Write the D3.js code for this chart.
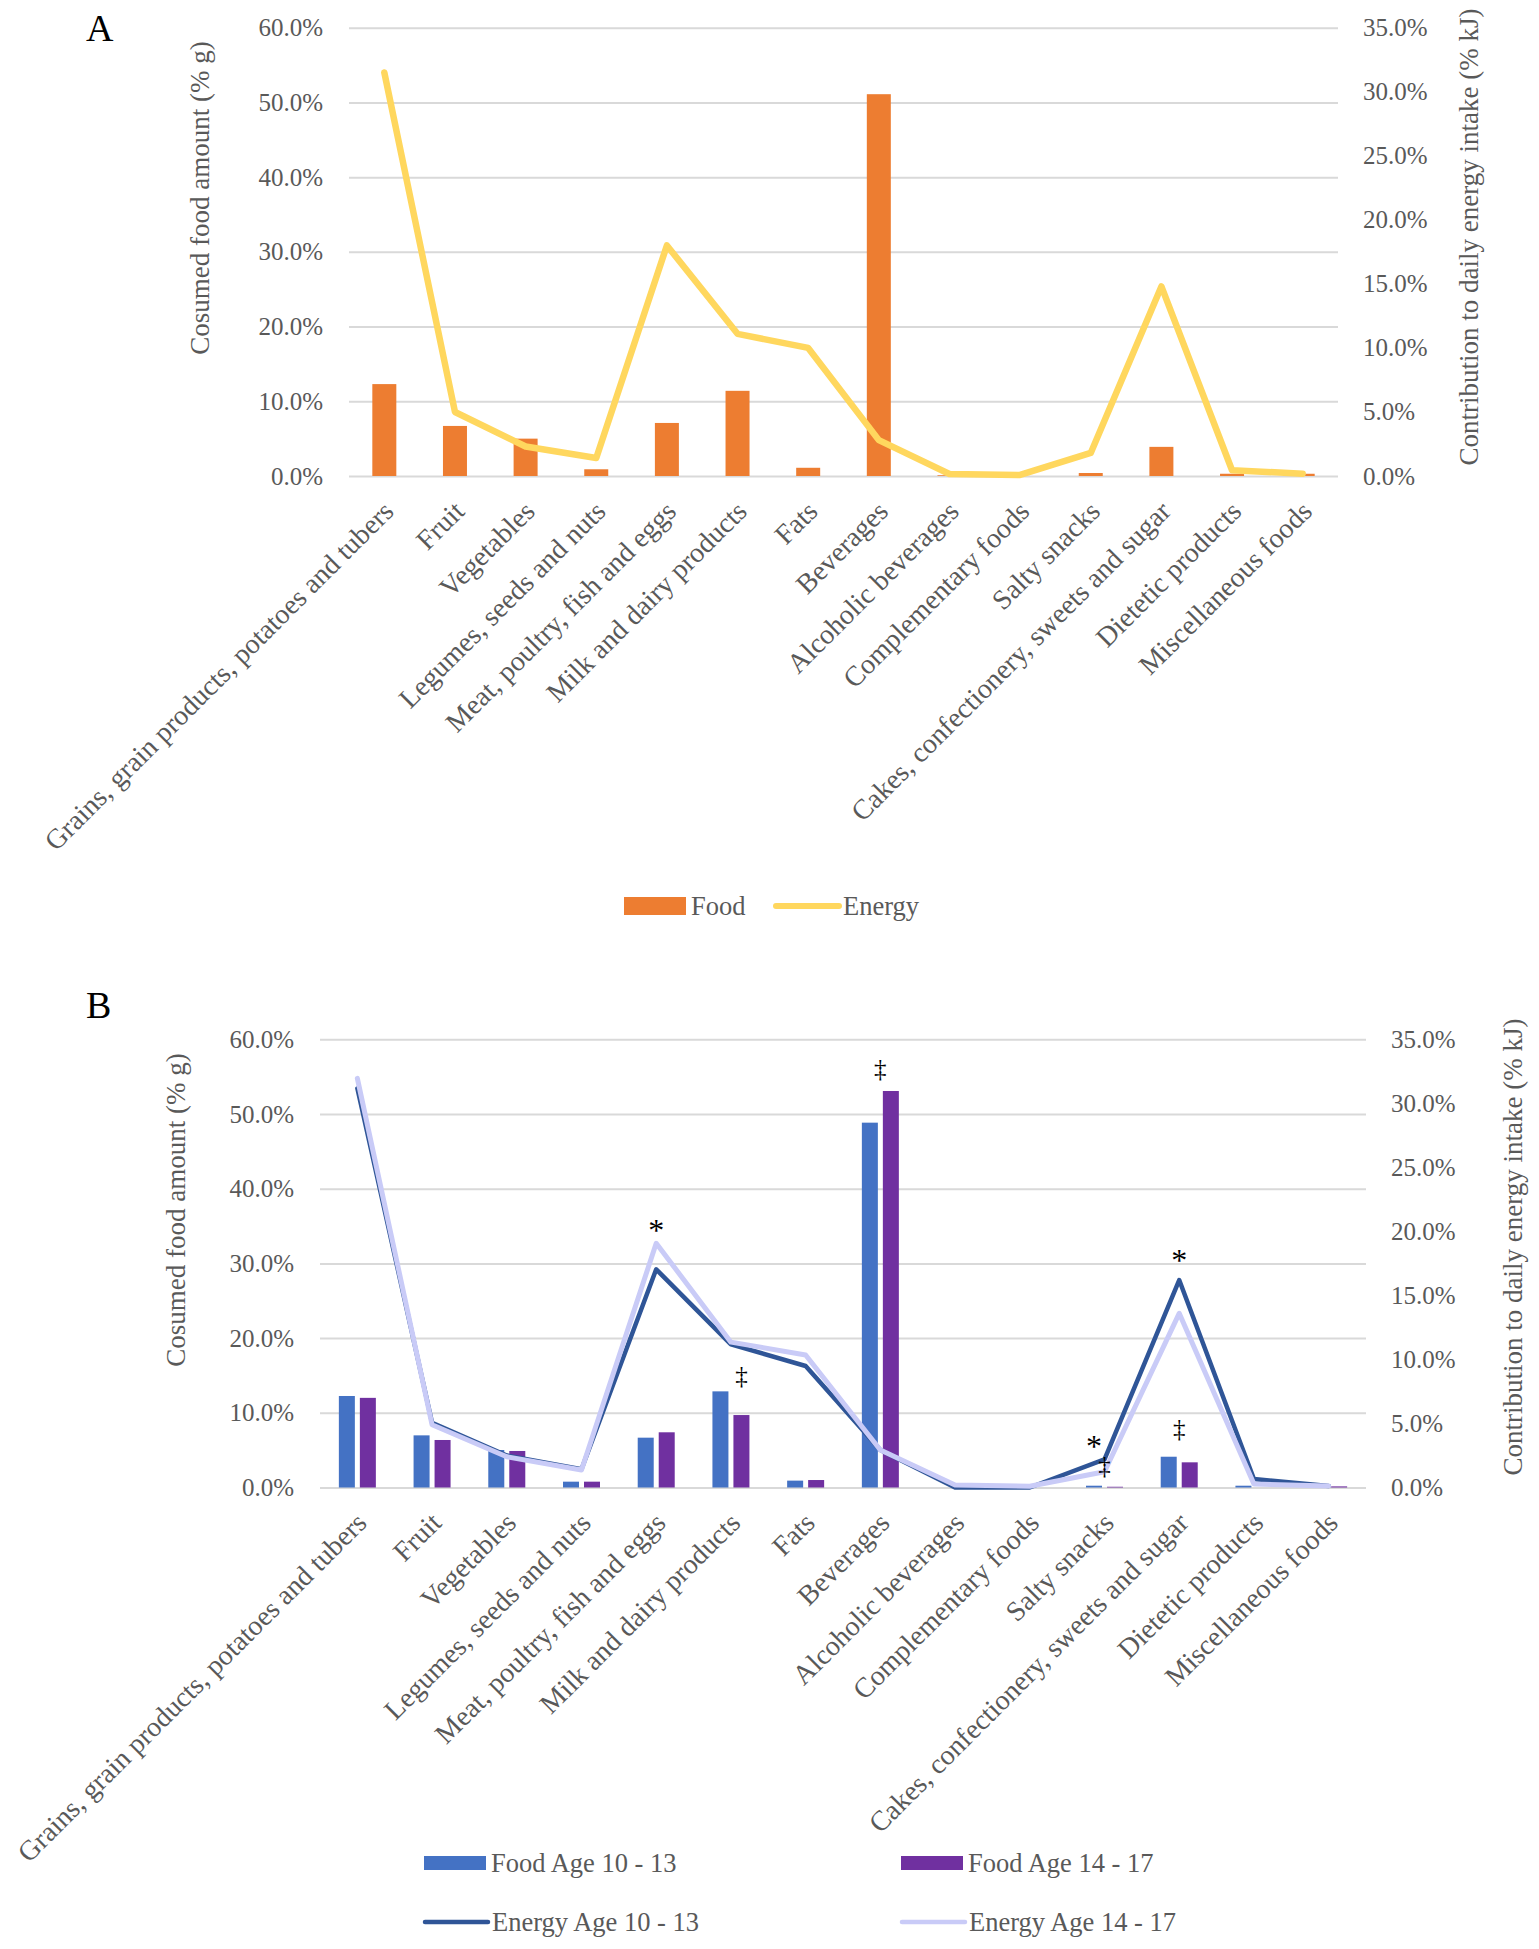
<!DOCTYPE html>
<html>
<head>
<meta charset="utf-8">
<script src="https://cdnjs.cloudflare.com/ajax/libs/d3/7.8.5/d3.min.js"></script>
<style>
  body { margin: 0; background: #fff; }
</style>
</head>
<body>
<div class="render"></div>
<script>
'use strict';

// categories on the x axis (both panels)
var categories = [
   'Grains, grain products, potatoes and tubers', 'Fruit', 'Vegetables',
   'Legumes, seeds and nuts', 'Meat, poultry, fish and eggs', 'Milk and dairy products',
   'Fats', 'Beverages', 'Alcoholic beverages', 'Complementary foods', 'Salty snacks',
   'Cakes, confectionery, sweets and sugar', 'Dietetic products', 'Miscellaneous foods'
];

// panel A (% g on left axis, % kJ on right axis)
var foodAll = [12.3, 6.7, 5.0, 0.9, 7.1, 11.4, 1.1, 51.1, 0.1, 0.0, 0.4, 3.9, 0.3, 0.3];
var energyAll = [31.5, 5.0, 2.3, 1.4, 18.0, 11.1, 10.0, 2.8, 0.16, 0.08, 1.8, 14.8, 0.45, 0.18];

// panel B, by age group
var food1013 = [12.25, 6.98, 5.02, 0.78, 6.67, 12.87, 0.92, 48.84, 0.0, 0.0, 0.24, 4.12, 0.24, 0.0];
var food1417 = [12.0, 6.36, 4.89, 0.78, 7.39, 9.7, 1.0, 53.08, 0.0, 0.0, 0.1, 3.37, 0.0, 0.15];
var energy1013 = [31.17, 5.06, 2.5, 1.42, 17.04, 11.18, 9.49, 2.93, 0.0, 0.0, 2.2, 16.2, 0.66, 0.12];
var energy1417 = [31.95, 4.9, 2.4, 1.37, 19.07, 11.35, 10.35, 2.93, 0.2, 0.1, 1.23, 13.6, 0.27, 0.12];

// axis ticks
var leftTicks = [0, 10, 20, 30, 40, 50, 60];
var rightTicks = [0, 5, 10, 15, 20, 25, 30, 35];

// significance marks in panel B (value read on the left axis, -1 = centre of group)
var markSymbols = ['*', '\u2021', '\u2021', '*', '\u2021', '*', '\u2021'];
var markCategories = ['Meat, poultry, fish and eggs', 'Milk and dairy products', 'Beverages',
   'Salty snacks', 'Salty snacks', 'Cakes, confectionery, sweets and sugar',
   'Cakes, confectionery, sweets and sugar'];
var markSeries = [-1, 1, -1, 0, -1, -1, -1];
var markValues = [35.6, 14.8, 56.0, 6.7, 2.8, 31.6, 7.8];

var FONT = '"Liberation Serif", "DejaVu Serif", serif';
var GREY = '#595959';

var w = 1539;
var h = 1949;
var svg = d3.select('.render').append('svg').attr('width', w).attr('height', h)
   .style('display', 'block').attr('font-family', FONT);
svg.append('rect').attr('width', w).attr('height', h).attr('fill', '#fff');

function pct(d) {
   return d.toFixed(1) + '%';
}

function drawPanel(p) {
   var x = d3.scaleBand().domain(categories).range([p.left, p.right]);
   var inner = d3.scaleBand().domain(d3.range(p.bars.length))
      .range([-p.cluster / 2, p.cluster / 2]).paddingInner(p.gap);
   var yL = d3.scaleLinear().domain([0, 60]).range([p.bottom, p.top]);
   var yR = d3.scaleLinear().domain([0, 35]).range([p.bottom, p.top]);
   var mid = function (c) { return x(c) + x.bandwidth() / 2; };

   // left axis + gridlines
   var gl = svg.append('g').attr('transform', 'translate(' + p.left + ',0)')
      .call(d3.axisLeft(yL).tickValues(leftTicks).tickSize(-(p.right - p.left)).tickPadding(26).tickFormat(pct))
      .attr('font-family', FONT).attr('font-size', 25);
   gl.select('.domain').remove();
   gl.selectAll('line').attr('stroke', '#d9d9d9').attr('stroke-width', 2);
   gl.selectAll('text').attr('fill', GREY);

   // right axis
   var gr = svg.append('g').attr('transform', 'translate(' + p.right + ',0)')
      .call(d3.axisRight(yR).tickValues(rightTicks).tickSize(0).tickPadding(25).tickFormat(pct))
      .attr('font-family', FONT).attr('font-size', 25);
   gr.select('.domain').remove();
   gr.selectAll('text').attr('fill', GREY);

   // bars
   p.bars.forEach(function (s, k) {
      svg.append('g').selectAll('rect').data(s.values).join('rect')
         .attr('x', function (d, i) { return mid(categories[i]) + inner(k); })
         .attr('y', function (d) { return yL(d); })
         .attr('width', inner.bandwidth())
         .attr('height', function (d) { return p.bottom - yL(d); })
         .attr('fill', s.color);
   });

   // energy lines
   p.lines.forEach(function (s) {
      var line = d3.line()
         .x(function (d, i) { return mid(categories[i]); })
         .y(function (d) { return yR(d); });
      svg.append('path').datum(s.values).attr('d', line)
         .attr('fill', 'none').attr('stroke', s.color).attr('stroke-width', s.width)
         .attr('stroke-linejoin', 'round').attr('stroke-linecap', 'round');
   });

   // category labels
   var gx = svg.append('g').attr('transform', 'translate(0,' + p.bottom + ')')
      .call(d3.axisBottom(x).tickSize(0).tickPadding(0))
      .attr('font-family', FONT).attr('font-size', 28);
   gx.select('.domain').remove();
   gx.selectAll('text').attr('fill', GREY).attr('y', 0).attr('dy', '0.35em')
      .attr('text-anchor', 'end').attr('transform', 'translate(4,30) rotate(-45)');

   // significance marks
   if (p.marks) {
      markSymbols.forEach(function (m, i) {
         var cx = mid(markCategories[i]);
         if (markSeries[i] >= 0) cx += inner(markSeries[i]) + inner.bandwidth() / 2;
         svg.append('text').text(m).attr('x', cx).attr('y', yL(markValues[i]))
            .attr('dy', m === '*' ? '0.6em' : '0.3em')
            .attr('text-anchor', 'middle').attr('font-size', m === '*' ? 32 : 25).attr('fill', '#000');
      });
   }

   // panel letter
   svg.append('text').text(p.letter).attr('x', 86).attr('y', p.letterY)
      .attr('font-size', 38).attr('fill', '#000');

   // axis titles
   svg.append('text').text('Cosumed food amount (% g)')
      .attr('transform', 'translate(' + p.leftTitle[0] + ',' + p.leftTitle[1] + ') rotate(-90)')
      .attr('dy', '0.35em').attr('text-anchor', 'middle').attr('font-size', 27).attr('fill', GREY);
   svg.append('text').text('Contribution to daily energy intake (% kJ)')
      .attr('transform', 'translate(' + p.rightTitle[0] + ',' + p.rightTitle[1] + ') rotate(-90)')
      .attr('dy', '0.35em').attr('text-anchor', 'middle').attr('font-size', 27).attr('fill', GREY);

   // legend
   p.legend.forEach(function (l) {
      if (l.kind === 'rect') {
         svg.append('rect').attr('x', l.x).attr('y', l.y - l.size / 2).attr('width', 62)
            .attr('height', l.size).attr('fill', l.color);
      } else {
         svg.append('line').attr('x1', l.x).attr('x2', l.x + 63).attr('y1', l.y).attr('y2', l.y)
            .attr('stroke', l.color).attr('stroke-width', l.size).attr('stroke-linecap', 'round');
      }
      svg.append('text').text(l.label).attr('x', l.x + 67).attr('y', l.y).attr('dy', '0.35em')
         .attr('font-size', 26.5).attr('fill', GREY);
   });
}

drawPanel({
   letter: 'A', letterY: 41,
   left: 349, right: 1338, top: 27.7, bottom: 476,
   cluster: 24, gap: 0,
   bars: [{ values: foodAll, color: '#ed7d31' }],
   lines: [{ values: energyAll, color: '#ffd75e', width: 6.5 }],
   leftTitle: [200, 198], rightTitle: [1469, 237],
   legend: [
      { label: 'Food', kind: 'rect', color: '#ed7d31', x: 624, y: 906, size: 18 },
      { label: 'Energy', kind: 'line', color: '#ffd75e', x: 776, y: 906, size: 6 }
   ]
});

drawPanel({
   letter: 'B', letterY: 1018,
   left: 320, right: 1366, top: 1039.3, bottom: 1487.5,
   cluster: 37, gap: 0.238,
   bars: [{ values: food1013, color: '#4472c4' }, { values: food1417, color: '#7030a0' }],
   lines: [{ values: energy1013, color: '#2f5597', width: 4.5 },
      { values: energy1417, color: '#c9cbf7', width: 5 }],
   leftTitle: [176, 1210], rightTitle: [1513, 1247],
   marks: true,
   legend: [
      { label: 'Food Age 10 - 13', kind: 'rect', color: '#4472c4', x: 424, y: 1863, size: 14 },
      { label: 'Food Age 14 - 17', kind: 'rect', color: '#7030a0', x: 901, y: 1863, size: 14 },
      { label: 'Energy Age 10 - 13', kind: 'line', color: '#2f5597', x: 425, y: 1922, size: 4.5 },
      { label: 'Energy Age 14 - 17', kind: 'line', color: '#c9cbf7', x: 902, y: 1922, size: 4.5 }
   ]
});
</script>
</body>
</html>
